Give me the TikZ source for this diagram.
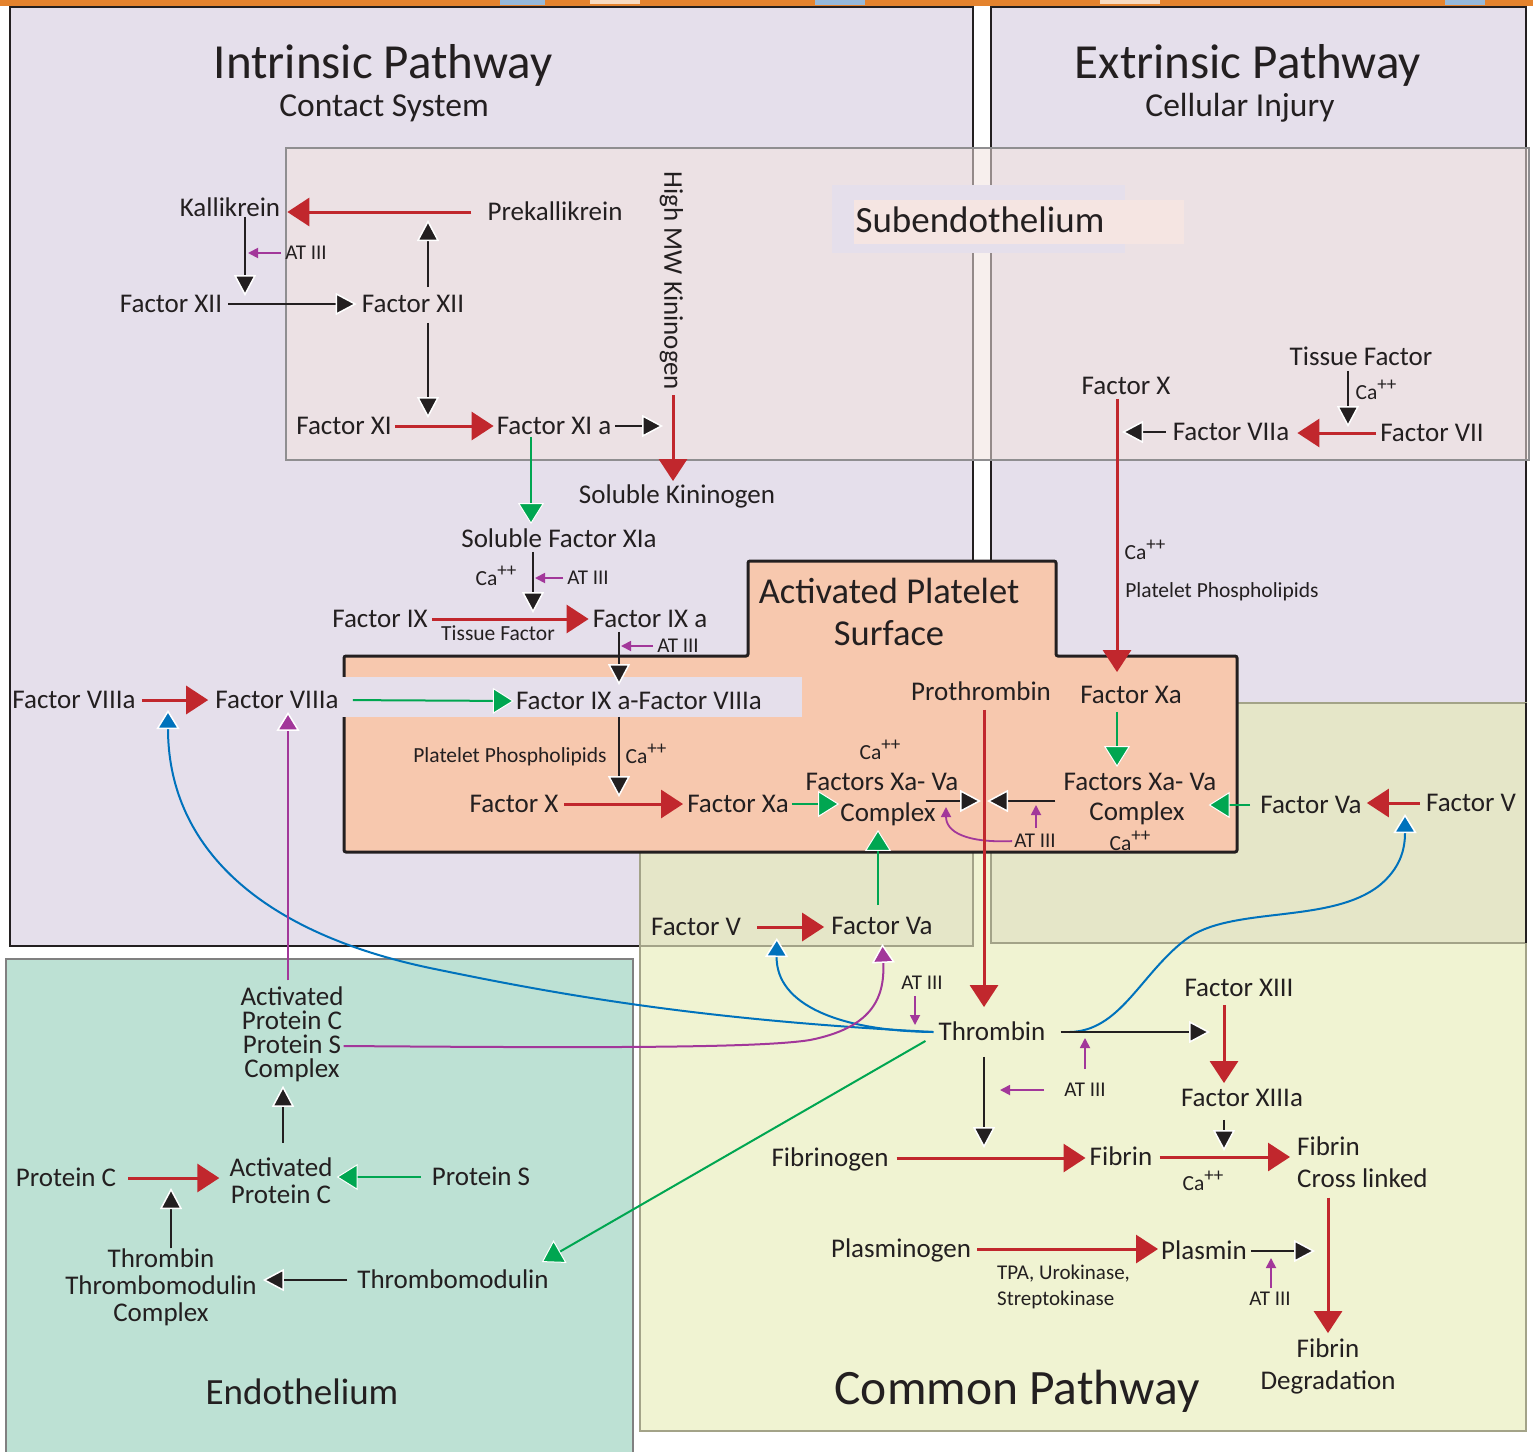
\documentclass[tikz,border=0pt]{standalone}
\usepackage{fontspec}
\setmainfont{Carlito}
\usetikzlibrary{arrows.meta,calc}
\definecolor{ink}{HTML}{231F20}
\definecolor{cred}{HTML}{C1272D}
\definecolor{cgreen}{HTML}{00A651}
\definecolor{cpurple}{HTML}{A2379A}
\definecolor{cblue}{HTML}{0072BC}
\definecolor{lav}{HTML}{E5DFEB}
\definecolor{peach}{HTML}{F7C8AE}
\definecolor{mint}{HTML}{BDE1D4}
\definecolor{ltyel}{HTML}{F0F3D2}
\definecolor{khaki}{HTML}{E5E6C8}
\definecolor{subpink}{RGB}{242,227,224}
\definecolor{labpink}{RGB}{245,229,226}
\definecolor{olive}{HTML}{A3A388}
\definecolor{strip}{HTML}{E4832E}
\newcommand\caplus{Ca\raisebox{0.38em}{\fontsize{19}{19}\selectfont ++}}
\begin{document}
\begin{tikzpicture}[x=1pt,y=-1pt,
  lab/.style={inner sep=0pt, text=ink, font=\fontsize{27}{27}\selectfont, text height=17.5pt, text depth=0pt},
  sml/.style={inner sep=0pt, text=ink, font=\fontsize{21.5}{21.5}\selectfont, text height=14pt, text depth=0pt},
  ats/.style={inner sep=0pt, text=ink, font=\fontsize{21}{21}\selectfont, text height=13.5pt, text depth=0pt},
  ttl/.style={inner sep=0pt, text=ink},
  rarr/.style={draw=cred, line width=3pt, -{Triangle[length=22pt,width=28pt]}},
  karr/.style={draw=ink, line width=2pt, -{Triangle[length=21pt,width=22pt,color=white,fill=ink,line width=1.5pt]}},
  garr/.style={draw=cgreen, line width=2pt, -{Triangle[length=21pt,width=26pt,color=white,fill=cgreen,line width=1pt]}},
  parr/.style={draw=cpurple, line width=1.8pt, -{Triangle[length=10pt,width=10pt]}},
  pbig/.style={draw=cpurple, line width=2pt, -{Triangle[length=19pt,width=23pt,color=white,fill=cpurple,line width=1.5pt]}},
  barr/.style={draw=cblue, line width=2pt, -{Triangle[length=19pt,width=23pt,color=white,fill=cblue,line width=1.5pt]}},
  regbox/.style={draw=ink, line width=2.5pt, fill=lav}
]
\useasboundingbox (0,0) rectangle (1533,1451);
\fill[white] (0,0) rectangle (1533,1451);
% decorative top strip
\fill[strip] (0,0) rectangle (1533,6);
\fill[cblue!35!lav] (500,0) rectangle (545,5);
\fill[white!70!strip] (590,0) rectangle (640,4);
\fill[cblue!35!lav] (815,0) rectangle (865,5);
\fill[white!70!strip] (1100,0) rectangle (1160,4);
\fill[cblue!35!lav] (1445,0) rectangle (1485,5);

% region boxes
\draw[regbox] (10,7) rectangle (973,946);
\draw[regbox] (991,7) rectangle (1526,943);
\draw[olive, line width=2pt, fill=ltyel] (640,703) rectangle (1526,1431);
\draw[olive, line width=2pt, fill=khaki] (640,703) rectangle (973,946);
\draw[olive, line width=2pt, fill=khaki] (991,703) rectangle (1526,943);
\draw[ink, line width=2.5pt] (1526,703) -- (1526,943);
\draw[gray, line width=1.5pt, fill=mint] (6,959) rectangle (633,1470);
% subendothelium
\fill[subpink, opacity=0.55] (286,148) rectangle (1529,460);
\draw[gray!85!lav, line width=2pt] (286,148) rectangle (1529,460);
\fill[lav] (832,185) rectangle (1125,253);
\fill[labpink] (854,200) rectangle (1184,244);
\node[ttl, font=\fontsize{37}{37}\selectfont, text height=24pt, text depth=0pt] (sub) at (980,220) {Subendothelium};
% activated platelet surface
\draw[ink, line width=3pt, fill=peach, rounded corners=2pt] (344,656) -- (748,656) -- (748,561) -- (1056,561) -- (1056,656) -- (1237,656) -- (1237,852) -- (344,852) -- cycle;
\fill[lav] (342,677) rectangle (802,717);

% titles
\node[ttl, font=\fontsize{49}{49}\selectfont, text height=31.5pt, text depth=0pt] (tin) at (383,63) {Intrinsic Pathway};
\node[ttl, font=\fontsize{33.5}{33.5}\selectfont, text height=21.5pt, text depth=0pt] (tcs) at (384,106) {Contact System};
\node[ttl, font=\fontsize{49}{49}\selectfont, text height=31.5pt, text depth=0pt] (tex) at (1248,63) {Extrinsic Pathway};
\node[ttl, font=\fontsize{33.5}{33.5}\selectfont, text height=21.5pt, text depth=0pt] (tci) at (1240,106) {Cellular Injury};
\node[ttl, align=center, font=\fontsize{36.5}{42}\selectfont] (aps) at (889,612) {Activated Platelet\\Surface};
\node[ttl, font=\fontsize{49.5}{49.5}\selectfont, text height=32pt, text depth=0pt] (cpt) at (1017,1388) {Common Pathway};
\node[ttl, font=\fontsize{37}{37}\selectfont, text height=24pt, text depth=0pt] (endo) at (302,1392) {Endothelium};

% intrinsic labels
\node[lab] (kall) at (230,208) {Kallikrein};
\node[lab] (prek) at (555,212) {Prekallikrein};
\node[ats] (at1) at (306,253) {AT III};
\node[lab] (f12a) at (171,304) {Factor XII};
\node[lab] (f12b) at (413,304) {Factor XII};
\node[lab] (f11) at (344,426) {Factor XI};
\node[lab] (f11a) at (554,426) {Factor XI a};
\node[lab, rotate=-90] (hmwk) at (673,281) {High MW Kininogen};
\node[lab] (solk) at (677,495) {Soluble Kininogen};
\node[lab] (sf11a) at (559,539) {Soluble Factor XIa};
\node[sml] (ca1) at (496,578) {\caplus};
\node[ats] (at2) at (588,578) {AT III};
\node[lab] (f9) at (380,619) {Factor IX};
\node[sml] (tf1) at (498,633) {Tissue Factor};
\node[lab] (f9a) at (650,619) {Factor IX a};
\node[ats] (at3) at (678,646) {AT III};
\node[lab] (f9a8a) at (639,701) {Factor IX a-Factor VIIIa};
\node[lab] (f8a1) at (74,700) {Factor VIIIa};
\node[lab] (f8a2) at (277,700) {Factor VIIIa};
\node[sml] (pp1) at (510,755) {Platelet Phospholipids};
\node[sml] (ca2) at (646,756) {\caplus};
\node[lab] (fx1) at (514,804) {Factor X};
\node[lab] (fxa1) at (738,804) {Factor Xa};
\node[sml] (ca3) at (880,752) {\caplus};
\node[lab] (cpx1a) at (882,782) {Factors Xa- Va};
\node[lab] (cpx1b) at (888,813) {Complex};
\node[lab] (proth) at (981,692) {Prothrombin};
\node[lab] (fxa2) at (1131,695) {Factor Xa};
\node[lab] (cpx2a) at (1140,782) {Factors Xa- Va};
\node[lab] (cpx2b) at (1137,812) {Complex};
\node[sml] (ca4) at (1130,843) {\caplus};
\node[ats] (at4) at (1035,841) {AT III};
\node[lab] (fva2) at (1311,805) {Factor Va};
\node[lab] (fv2) at (1471,803) {Factor V};

% extrinsic labels
\node[lab] (tfac) at (1361,357) {Tissue Factor};
\node[sml] (ca5) at (1376,392) {\caplus};
\node[lab] (f7) at (1432,433) {Factor VII};
\node[lab] (f7a) at (1231,432) {Factor VIIa};
\node[lab] (fx2) at (1126,386) {Factor X};
\node[sml] (ca6) at (1145,552) {\caplus};
\node[sml] (pp2) at (1222,590) {Platelet Phospholipids};

% common labels
\node[lab] (fv1) at (696,927) {Factor V};
\node[lab] (fva1) at (882,926) {Factor Va};
\node[ats] (at5) at (922,983) {AT III};
\node[lab] (thr) at (992,1032) {Thrombin};
\node[lab] (f13) at (1239,988) {Factor XIII};
\node[lab] (f13a) at (1242,1098) {Factor XIIIa};
\node[ats] (at6) at (1085,1090) {AT III};
\node[lab] (fbg) at (830,1158) {Fibrinogen};
\node[lab] (fib) at (1121,1157) {Fibrin};
\node[sml] (ca7) at (1203,1183) {\caplus};
\node[ttl, align=left, anchor=west, font=\fontsize{27}{32}\selectfont] (fcl) at (1297,1162) {Fibrin\\Cross linked};
\node[ttl, align=center, font=\fontsize{27}{32}\selectfont] (fdeg) at (1328,1366) {Fibrin\\Degradation};
\node[lab] (plg) at (901,1249) {Plasminogen};
\node[ttl, align=left, anchor=west, font=\fontsize{21}{26}\selectfont] (tpa) at (997,1287) {TPA, Urokinase,\\Streptokinase};
\node[lab] (pls) at (1204,1251) {Plasmin};
\node[ats] (at7) at (1270,1299) {AT III};

% endothelium labels
\node[ttl, align=center, font=\fontsize{27}{24}\selectfont] (apcpx) at (292,1034) {Activated\\Protein C\\Protein S\\Complex};
\node[ttl, align=center, font=\fontsize{27}{27}\selectfont] (apc) at (281,1181) {Activated\\Protein C};
\node[lab] (pc) at (66,1178) {Protein C};
\node[lab] (ps) at (481,1177) {Protein S};
\node[ttl, align=center, font=\fontsize{27}{27}\selectfont] (ttc) at (161,1287) {Thrombin\\Thrombomodulin\\Complex};
\node[lab] (tm) at (453,1280) {Thrombomodulin};

% junction points on connectors
\coordinate (j1) at (245,304);
\coordinate (j1a) at (245,253);
\coordinate (j2) at (428,212);
\coordinate (j3) at (428,426);
\coordinate (j4) at (672,426);
\coordinate (j5) at (533,619);
\coordinate (j5a) at (533,578);
\coordinate (j6) at (619,701);
\coordinate (j6a) at (619,646);
\coordinate (j7) at (619,804);
\coordinate (jp) at (984,801);
\coordinate (jq) at (946,801);
\coordinate (jr) at (1036,801);
\coordinate (jx) at (1117,431);
\coordinate (jt) at (1348,433);
\coordinate (jb1) at (777,926);
\coordinate (jb2) at (168,698);
\coordinate (jb3) at (1405,804);
\coordinate (jf) at (1224,1032);
\coordinate (ju) at (1085,1032);
\coordinate (jv) at (984,1092);
\coordinate (jk) at (984,1157);
\coordinate (jl) at (1224,1158);
\coordinate (jm) at (1326,1251);
\coordinate (jn) at (1271,1251);
\coordinate (jc) at (171,1179);
\coordinate (jd) at (283,1100);
\coordinate (jw) at (915,1031);

% intrinsic connectors
\draw[rarr, shorten <=16pt, shorten >=7pt] (prek.west) -- (prek.west -| kall.east);
\draw[karr, shorten >=8pt] (kall.south -| j1) -- (j1);
\draw[parr, shorten <=4pt, shorten >=3pt] (at1.west) -- (j1a);
\draw[karr, shorten <=6pt, shorten >=5pt] (f12a.east) -- (f12b.west);
\draw[karr, shorten <=8pt, shorten >=8pt] (f12b.north -| j2) -- (j2);
\draw[karr, shorten <=10pt, shorten >=8pt] (f12b.south -| j3) -- (j3);
\draw[rarr, shorten <=3pt, shorten >=3pt] (f11.east) -- (f11a.west);
\draw[karr, shorten <=4pt, shorten >=9pt] (f11a.east) -- (j4);
\draw[rarr, shorten <=5pt, shorten >=5pt] (hmwk.east) -- (hmwk.east |- solk.north);
\draw[garr, shorten <=2pt, shorten >=6pt] ([xshift=-23pt]f11a.south) -- ([xshift=-23pt]f11a.south |- sf11a.north);
\draw[karr, shorten <=4pt, shorten >=6pt] (sf11a.south -| j5) -- (j5);
\draw[parr, shorten <=4pt, shorten >=2pt] (at2.west) -- (j5a);
\draw[rarr, shorten <=4pt, shorten >=4pt] (f9.east) -- (f9a.west);
\draw[karr, shorten <=4pt, shorten >=7pt] (f9a.south -| j6) -- (f9a8a.north -| j6);
\draw[parr, shorten <=4pt, shorten >=2pt] (at3.west) -- (j6a);
\draw[garr, shorten <=14pt, shorten >=2pt] (f8a2.east) -- (f9a8a.west);
\draw[rarr, shorten <=6pt, shorten >=7pt] (f8a1.east) -- (f8a2.west);
\draw[karr, shorten <=7pt, shorten >=7pt] (f9a8a.south -| j7) -- (j7);
\draw[rarr, shorten <=6pt, shorten >=4pt] (fx1.east) -- (fxa1.west);
\draw[garr, shorten <=3pt, shorten >=1pt] (fxa1.east) -- (fxa1.east -| cpx1b.west);
\draw[karr, shorten >=3pt] ([xshift=-10pt]cpx1b.east |- jp) -- (jp);
\draw[karr, shorten <=8pt, shorten >=3pt] (cpx2a.west |- jp) -- (jp);
\draw[parr, shorten <=2pt, shorten >=6pt] (at4.west) .. controls (966,843) and (946,832) .. (jq);
\draw[parr, shorten <=6pt, shorten >=4pt] (at4.north -| jr) -- (jr);
\draw[garr, shorten <=8pt, shorten >=6pt] ([xshift=-14pt]fxa2.south) -- ([xshift=-14pt]fxa2.south |- cpx2a.north);

% extrinsic connectors
\draw[rarr, shorten <=4pt, shorten >=14pt] ([xshift=-9pt]fx2.south) -- ([xshift=-9pt]fx2.south |- fxa2.north);
\draw[karr, shorten <=7pt, shorten >=5pt] (f7a.west) -- (f7a.west -| jx);
\draw[rarr, shorten <=4pt, shorten >=8pt] (f7.west) -- (f7.west -| f7a.east);
\draw[karr, shorten <=5pt, shorten >=6pt] (tfac.south -| jt) -- (jt);
\draw[garr, shorten <=10pt, shorten >=-8pt] (fva2.west) -- (fva2.west -| cpx2a.east);
\draw[rarr, shorten <=6pt, shorten >=5pt] (fv2.west) -- (fv2.west -| fva2.east);

% common connectors
\draw[rarr, shorten <=16pt, shorten >=7pt] (fv1.east) -- (fv1.east -| fva1.west);
\draw[garr, shorten <=12pt, shorten >=8pt] ([xshift=-4pt]fva1.north) -- ([xshift=-4pt]fva1.north |- cpx1b.south);
\draw[barr, shorten >=12pt] ([xshift=-5pt]thr.west) .. controls (840,1031) and (776,1005) .. (jb1);
\draw[barr, shorten >=12pt] ([xshift=-5pt]thr.west) .. controls (700,1020) and (560,995) .. (430,968) .. controls (250,930) and (168,840) .. (jb2);
\draw[barr, shorten >=10pt] ([xshift=24pt]thr.east) .. controls (1120,1031) and (1140,975) .. (1185,940) .. controls (1230,905) and (1330,925) .. (1380,885) .. controls (1400,868) and (1405,850) .. (jb3);
\draw[parr, shorten <=6pt, shorten >=6pt] ([xshift=-7pt]at5.south) -- ([xshift=-7pt]at5.south |- jw);
\draw[karr, shorten <=15pt, shorten >=14pt] (thr.east) -- (thr.east -| jf);
\draw[parr, shorten <=14pt, shorten >=6pt] (at6.north -| ju) -- (ju);
\draw[parr, shorten <=20pt, shorten >=16pt] (at6.west) -- (at6.west -| jv);
\draw[rarr, shorten <=9pt, shorten >=16pt] (proth.south -| jp) -- (jp |- thr.north);
\draw[rarr, shorten <=8pt, shorten >=6pt] (f13.south -| jf) -- (jf |- f13a.north);
\draw[karr, shorten <=16pt, shorten >=9pt] (thr.south -| jk) -- (jk);
\draw[rarr, shorten <=8pt, shorten >=4pt] (fbg.east) -- (fbg.east -| fib.west);
\draw[rarr, shorten <=7pt, shorten >=7pt] (fib.east) -- (fib.east -| fcl.west);
\draw[karr, shorten <=13pt, shorten >=7pt] (f13a.south -| jl) -- (jl);
\draw[rarr, shorten <=10pt, shorten >=5pt] (fcl.south -| fdeg.north) -- (fdeg.north);
\draw[rarr, shorten <=6pt, shorten >=3pt] (plg.east) -- (plg.east -| pls.west);
\draw[karr, shorten <=4pt, shorten >=11pt] (pls.east) -- (pls.east -| jm);
\draw[parr, shorten <=4pt, shorten >=7pt] (at7.north -| jn) -- (jn);
\draw[garr] ([xshift=-13pt]thr.south west) -- ([xshift=-7pt,yshift=9pt]tm.north east);

% endothelium connectors
\draw[karr, shorten <=10pt, shorten >=6pt] (tm.west) -- (tm.west -| ttc.east);
\draw[karr, shorten >=9pt] (ttc.north -| jc) -- (jc);
\draw[rarr, shorten <=12pt, shorten >=10pt] (pc.east) -- (pc.east -| apc.west);
\draw[garr, shorten <=11pt, shorten >=4pt] (ps.west) -- (ps.west -| apc.east);
\draw[karr, shorten <=15pt, shorten >=4pt] (apc.north -| jd) -- (apcpx.south -| jd);
\draw[pbig, shorten <=6pt, shorten >=3pt] ([xshift=-4pt]apcpx.north) -- ([xshift=-4pt]apcpx.north |- f8a2.south);
\draw[pbig, shorten >=9pt] ([yshift=-12pt]apcpx.east) .. controls (600,1048) and (760,1048) .. (810,1040) .. controls (870,1028) and (885,1000) .. (fva1.south);
\end{tikzpicture}
\end{document}
